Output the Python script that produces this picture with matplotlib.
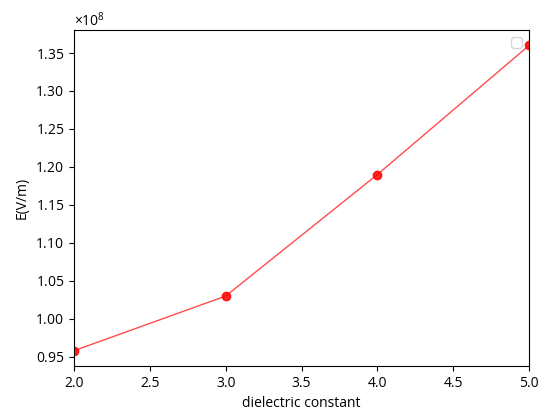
import matplotlib
matplotlib.use("Agg")
import matplotlib.pyplot as plt

plt.rcParams['font.family'] = ['Open Sans', 'DejaVu Sans']
plt.rcParams['mathtext.fontset'] = 'custom'
plt.rcParams['mathtext.rm'] = 'Open Sans'

eps = [2.0, 3.0, 4.0, 5.0]
E = [0.958e8, 1.030e8, 1.190e8, 1.360e8]

fig = plt.figure(figsize=(5.5, 4.19), dpi=100)
ax = fig.add_axes([0.1345, 0.1265, 0.8275, 0.8015])
ax.plot(eps, E, '-', color='red', alpha=0.7, linewidth=1)
ax.plot(eps, E, 'o', color='red', alpha=0.85, markersize=6)
ax.set_xlim(2.0, 5.0)
ax.ticklabel_format(axis='y', useMathText=True)
ax.set_xlabel('dielectric constant')
ax.set_ylabel('E(V/m)')
ax.legend()

fig.savefig('out.png', dpi=100)
